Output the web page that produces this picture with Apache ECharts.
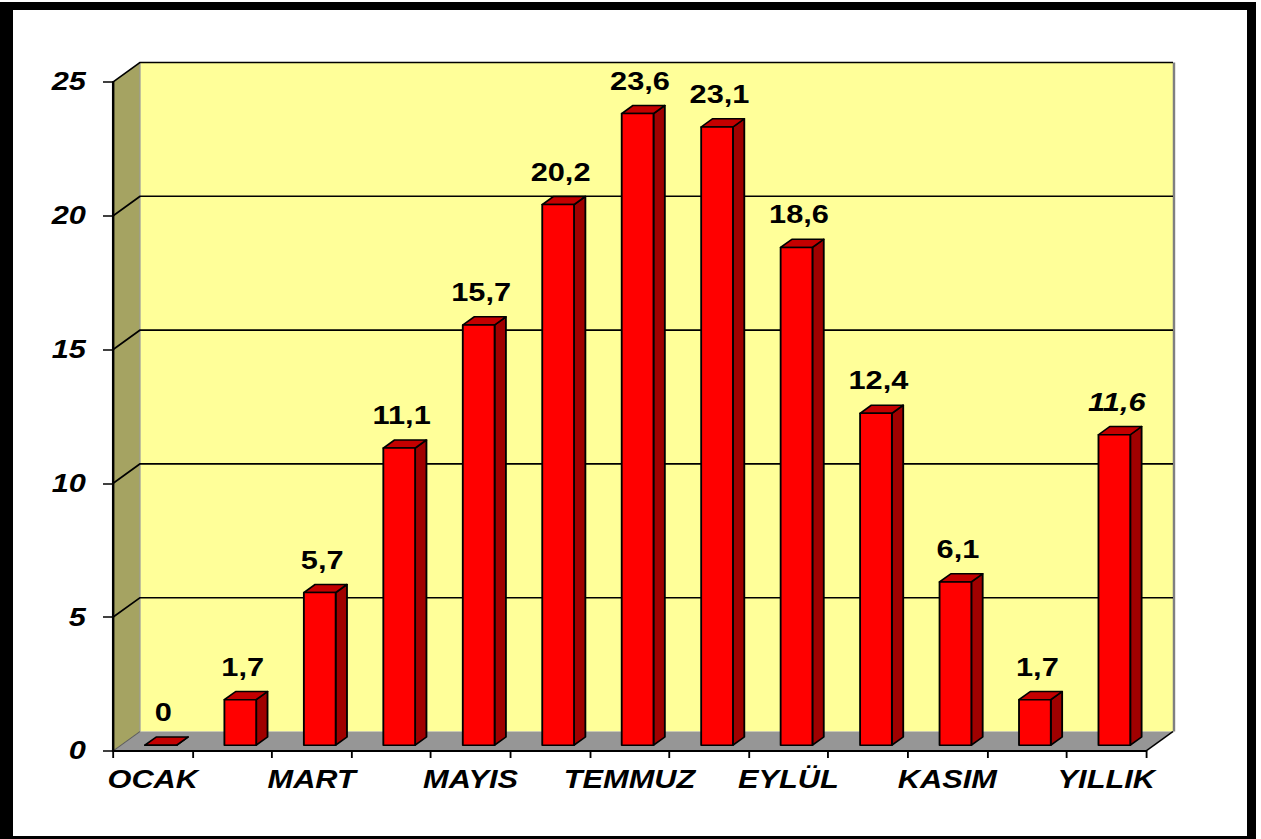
<!DOCTYPE html>
<html>
<head>
<meta charset="utf-8">
<script src="https://cdn.jsdelivr.net/npm/echarts@6/dist/echarts.min.js"></script>
<style>
html, body {
  margin: 0;
  padding: 0;
  background: #fff;
  overflow: hidden;
}
#frame {
  position: absolute;
  left: 0;
  top: 2px;
  width: 1256px;
  height: 837px;
  box-sizing: border-box;
  border-style: solid;
  border-color: #000;
  border-width: 8px 9px 3px 13px;
}
#chart {
  position: absolute;
  left: 0;
  top: 0;
  height: 839px;
  transform-origin: 0 0;
}
</style>
</head>
<body>
<div id="frame"></div>
<div id="chart"></div>
<script>
// aylar + yillik ortalama
const months = ["OCAK", "ŞUBAT", "MART", "NİSAN", "MAYIS", "HAZİRAN", "TEMMUZ",
  "AĞUSTOS", "EYLÜL", "EKİM", "KASIM", "ARALIK", "YILLIK"];
const values = [0, 1.7, 5.7, 11.1, 15.7, 20.2, 23.6, 23.1, 18.6, 12.4, 6.1, 1.7, 11.6];
const yTicks = [0, 5, 10, 15, 20, 25];

// the original picture is stretched sideways, so draw narrower and scale x
const H = 839;
const W = 1025;
const S = 1261 / W;

// 3d look: how far the back wall sits from the front plane
const DEPTH_X = 27 / S;
const DEPTH_Y = -19.5;
const BAR_RATIO = 0.4;
const BAR_FRONT = 0.3;
const BAR_BACK = 0.72;

const FONT = '"Liberation Sans", Arial, sans-serif';

const dom = document.getElementById("chart");
dom.style.width = W + "px";
dom.style.transform = "scaleX(" + S + ")";

const myChart = echarts.init(dom, null, { renderer: "svg", width: W, height: H });

function renderWalls(params, api) {
  const cs = params.coordSys;
  const x0 = cs.x;
  const x1 = cs.x + cs.width;
  const yb = api.coord([0, 0])[1];
  const yt = api.coord([0, yTicks[yTicks.length - 1]])[1];
  const dx = DEPTH_X;
  const dy = DEPTH_Y;
  const children = [
    {
      type: "rect",
      shape: { x: x0 + dx, y: yt + dy, width: x1 - x0, height: yb - yt },
      style: { fill: "#FFFF99" },
    },
    {
      type: "polygon",
      shape: { points: [[x0, yt], [x0 + dx, yt + dy], [x0 + dx, yb + dy], [x0, yb]] },
      style: { fill: "#A5A362" },
    },
    {
      type: "polygon",
      shape: { points: [[x0, yb], [x0 + dx, yb + dy], [x1 + dx, yb + dy], [x1, yb]] },
      style: { fill: "#969696" },
    },
    // kenar cizgileri
    {
      type: "line",
      shape: { x1: x0 + dx, y1: yt + dy, x2: x0 + dx, y2: yb + dy },
      style: { stroke: "#9a9a9a", lineWidth: 1 },
    },
    {
      type: "line",
      shape: { x1: x1 + dx + 0.8, y1: yt + dy, x2: x1 + dx + 0.8, y2: yb + dy },
      style: { stroke: "#808080", lineWidth: 2 },
    },
    {
      type: "line",
      shape: { x1: x1, y1: yb, x2: x1 + dx, y2: yb + dy },
      style: { stroke: "#000", lineWidth: 1.5 },
    },
  ];
  // izgara cizgileri: sol duvarda capraz, arka duvarda yatay
  yTicks.forEach(function (t) {
    const y = api.coord([0, t])[1];
    if (t === 0) {
      children.push({
        type: "line",
        shape: { x1: x0, y1: y, x2: x0 + dx, y2: y + dy },
        style: { stroke: "#555", lineWidth: 1 },
      });
      return;
    }
    children.push({
      type: "polyline",
      shape: { points: [[x0, y], [x0 + dx, y + dy], [x1 + dx, y + dy]] },
      style: { stroke: "#000", lineWidth: 1.6, fill: null },
    });
  });
  return { type: "group", children: children };
}

function renderBar(params, api) {
  const i = api.value(0);
  const v = api.value(1);
  const top = api.coord([i, v]);
  const base = api.coord([i, 0]);
  const w = api.size([1, 0])[0] * BAR_RATIO;
  const ox = DEPTH_X * BAR_FRONT;
  const oy = DEPTH_Y * BAR_FRONT;
  const bx = DEPTH_X * (BAR_BACK - BAR_FRONT);
  const by = DEPTH_Y * (BAR_BACK - BAR_FRONT);
  const xl = top[0] + ox - w / 2;
  const xr = xl + w;
  const yt = top[1] + oy;
  const yb = base[1] + oy;
  const edge = { stroke: "#000", lineWidth: 1.5, lineJoin: "round" };
  const label = String(v).replace(".", ",");
  return {
    type: "group",
    children: [
      {
        type: "polygon",
        shape: { points: [[xr, yt], [xr + bx, yt + by], [xr + bx, yb + by], [xr, yb]] },
        style: Object.assign({ fill: "#A00000" }, edge),
      },
      {
        type: "polygon",
        shape: { points: [[xl, yt], [xl + bx, yt + by], [xr + bx, yt + by], [xr, yt]] },
        style: Object.assign({ fill: "#C40000" }, edge),
      },
      {
        type: "rect",
        shape: { x: xl, y: yt, width: w, height: yb - yt },
        style: Object.assign({ fill: "#FF0000" }, edge),
      },
      {
        type: "text",
        style: {
          text: label,
          x: (xl + xr) / 2 + 2,
          y: yt - 20,
          align: "center",
          verticalAlign: "bottom",
          fill: "#000",
          fontSize: 25,
          fontWeight: "bold",
          fontStyle: i === months.length - 1 ? "italic" : "normal",
          fontFamily: FONT,
        },
      },
    ],
  };
}

myChart.setOption({
  animation: false,
  backgroundColor: "transparent",
  grid: {
    left: 113 / S,
    right: W - 1146 / S,
    top: 82,
    bottom: H - 751,
  },
  xAxis: {
    type: "category",
    data: months,
    z: 10,
    axisLine: { lineStyle: { color: "#000", width: 2 } },
    axisTick: { show: true, interval: 0, length: 7, lineStyle: { color: "#000", width: 1.5 } },
    axisLabel: {
      interval: 1,
      margin: 16,
      color: "#000",
      fontSize: 25,
      fontWeight: "bold",
      fontStyle: "italic",
      fontFamily: FONT,
    },
  },
  yAxis: {
    type: "value",
    min: yTicks[0],
    max: yTicks[yTicks.length - 1],
    interval: yTicks[1] - yTicks[0],
    z: 10,
    axisLine: { show: true, lineStyle: { color: "#000", width: 2 } },
    axisTick: { show: true, length: 10 / S, lineStyle: { color: "#000", width: 1.5 } },
    splitLine: { show: false },
    axisLabel: {
      margin: 22,
      color: "#000",
      fontSize: 25,
      fontWeight: "bold",
      fontStyle: "italic",
      fontFamily: FONT,
    },
  },
  series: [
    {
      name: "duvarlar",
      type: "custom",
      z: 1,
      silent: true,
      renderItem: renderWalls,
      data: [[0, 0]],
    },
    {
      name: "sicaklik",
      type: "custom",
      z: 3,
      renderItem: renderBar,
      encode: { x: 0, y: 1 },
      data: values.map(function (v, i) {
        return [i, v];
      }),
    },
  ],
});
</script>
</body>
</html>
